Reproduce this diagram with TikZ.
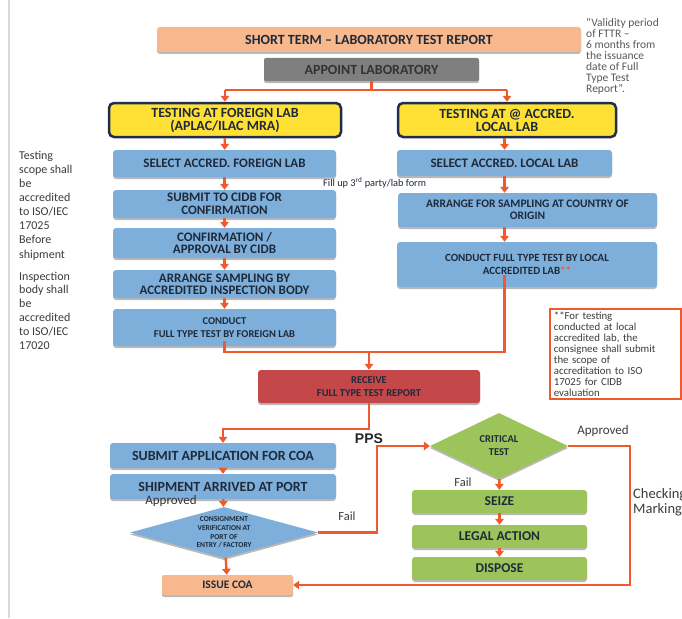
\documentclass[tikz,border=0pt]{standalone}
\usepackage{fontspec}
\setmainfont{Carlito}
\newfontfamily\arialbf{Liberation Sans}[BoldFont={Liberation Sans Bold}]
\usetikzlibrary{arrows.meta,shapes.geometric,shadows}
\definecolor{peach}{HTML}{F7B88E}
\definecolor{apgray}{HTML}{7F7F7F}
\definecolor{ylw}{HTML}{FFE135}
\definecolor{navy}{HTML}{1F2D4F}
\definecolor{bluebox}{HTML}{7EAFDB}
\definecolor{txt}{HTML}{1E2A3A}
\definecolor{orng}{HTML}{EE5A2B}
\definecolor{redbox}{HTML}{C4474A}
\definecolor{grn}{HTML}{9DC45B}
\definecolor{notetxt}{HTML}{3C3C3C}
\tikzset{
  shd/.style={drop shadow={shadow xshift=0pt,shadow yshift=-2pt,fill=black!50,opacity=.55}},
  bx/.style={rectangle, rounded corners=3pt, inner sep=0pt, align=center, text=txt, shd},
  bluebx/.style={bx, fill=bluebox},
  greenbx/.style={bx, fill=grn, minimum width=175pt, minimum height=23pt, font=\bfseries\fontsize{13.5}{14}\selectfont},
  yelbx/.style={rectangle, rounded corners=5pt, inner sep=0pt, align=center, fill=ylw, draw=navy, line width=2.5pt, text=txt, font=\bfseries\fontsize{14}{13}\selectfont},
  oline/.style={draw=orng, line width=2.4pt},
  oarr/.style={oline, -{Triangle[length=6pt,width=8.5pt]}},
  sidetxt/.style={align=left, inner sep=0pt, text=notetxt, font=\fontsize{12}{14}\selectfont},
  lbl/.style={inner sep=0pt, text=notetxt},
}
\begin{document}
\begin{tikzpicture}[x=1pt,y=-1pt]
\useasboundingbox (0,0) rectangle (682,618);
\fill[white] (0,0) rectangle (682,618);
\draw[black!15, line width=1.6pt] (9,0) -- (9,618);

% top
\node[bx, fill=peach, minimum width=424pt, minimum height=25pt, font=\bfseries\fontsize{14}{15}\selectfont] (title) at (369,39.5) {SHORT TERM -- LABORATORY TEST REPORT};
\node[bx, fill=apgray, rounded corners=2pt, minimum width=215pt, minimum height=23pt, font=\bfseries\fontsize{14}{15}\selectfont, text=black!80] (appoint) at (371.5,69.5) {APPOINT LABORATORY};
\node[lbl, anchor=north west, align=left, text=black!65, font=\fontsize{11.5}{11}\selectfont] (valid) at (586,18) {“Validity period\\of FTTR --\\6 months from\\the issuance\\date of Full\\Type Test\\Report”.};

\node[yelbx, minimum width=232pt, minimum height=34pt] (yelL) at (225,120) {TESTING AT FOREIGN LAB\\(APLAC/ILAC MRA)};
\node[yelbx, minimum width=218pt, minimum height=34pt] (yelR) at (507,120) {TESTING AT @ ACCRED.\\LOCAL LAB};

% left column
\node[bluebx, minimum width=223pt, minimum height=27pt, font=\bfseries\fontsize{13}{13}\selectfont] (sel) at (224.5,163.5) {SELECT ACCRED. FOREIGN LAB};
\node[bluebx, minimum width=223pt, minimum height=28pt, font=\bfseries\fontsize{13}{12.5}\selectfont] (sub) at (224.5,204) {SUBMIT TO CIDB FOR\\CONFIRMATION};
\node[bluebx, minimum width=223pt, minimum height=30pt, font=\bfseries\fontsize{13}{12.5}\selectfont] (conf) at (224.5,243) {CONFIRMATION /\\APPROVAL BY CIDB};
\node[bluebx, minimum width=223pt, minimum height=28pt, font=\bfseries\fontsize{13}{12}\selectfont] (arr) at (224.5,284) {ARRANGE SAMPLING BY\\ACCREDITED INSPECTION BODY};
\node[bluebx, minimum width=223pt, minimum height=37pt, font=\bfseries\fontsize{10.5}{13}\selectfont] (condL) at (224.5,327.5) {CONDUCT\\FULL TYPE TEST BY FOREIGN LAB};

% right column
\node[bluebx, minimum width=215pt, minimum height=26pt, font=\bfseries\fontsize{13}{13}\selectfont] (selR) at (504.5,163) {SELECT ACCRED. LOCAL LAB};
\node[bluebx, minimum width=259pt, minimum height=34pt, font=\bfseries\fontsize{11.5}{12.5}\selectfont] (arrR) at (527.5,210) {ARRANGE FOR SAMPLING AT COUNTRY OF\\ORIGIN};
\node[bluebx, minimum width=260pt, minimum height=45pt, font=\bfseries\fontsize{11}{13}\selectfont] (condR) at (527,264.5) {CONDUCT FULL TYPE TEST BY LOCAL\\ACCREDITED LAB\textcolor{orng}{**}};

\node[lbl, anchor=west, text=txt, font=\fontsize{10.3}{11}\selectfont] (fill) at (323,183) {Fill up 3\textsuperscript{rd} party/lab form};

% side notes
\node[sidetxt, anchor=west] (n1) at (19,190) {Testing\\scope shall\\be\\accredited\\to ISO/IEC\\17025};
\node[sidetxt, anchor=west, font=\fontsize{12}{15}\selectfont] (n2) at (19,247.5) {Before\\shipment};
\node[sidetxt, anchor=west, font=\fontsize{12}{13.8}\selectfont] (n3) at (19,310.5) {Inspection\\body shall\\be\\accredited\\to ISO/IEC\\17020};

% note box
\node[draw=orng, line width=1.8pt, fill=white, anchor=north west, text width=123pt, minimum height=90pt, inner xsep=4pt, inner ysep=0pt, align=left, text=notetxt, font=\fontsize{10.8}{11}\selectfont] (note) at (549,308) {**For testing\\conducted at local\\accredited lab, the\\consignee shall submit\\the scope of\\accreditation to ISO\\17025 for CIDB\\evaluation};

% receive
\node[bx, fill=redbox, minimum width=222pt, minimum height=33pt, font=\bfseries\fontsize{10.5}{13}\selectfont] (recv) at (369,386.5) {RECEIVE\\FULL TYPE TEST REPORT};

% bottom left
\node[bluebx, minimum width=226pt, minimum height=25pt, font=\bfseries\fontsize{14}{14}\selectfont] (subApp) at (223,455.5) {SUBMIT APPLICATION FOR COA};
\node[bluebx, minimum width=226pt, minimum height=25pt, font=\bfseries\fontsize{14}{14}\selectfont] (ship) at (223,486.5) {SHIPMENT ARRIVED AT PORT};
\node[diamond, aspect=3.7, fill=bluebox, minimum width=188pt, minimum height=51pt, inner sep=0pt, align=center, text=txt, shd, font=\bfseries\fontsize{7.5}{8.6}\selectfont] (cv) at (224,532.5) {CONSIGNMENT\\VERIFICATION AT\\PORT OF\\ENTRY / FACTORY};
\node[bx, fill=peach, rounded corners=2pt, minimum width=131pt, minimum height=20pt, font=\bfseries\fontsize{11.5}{12}\selectfont] (issue) at (227.5,585) {ISSUE COA};
\node[lbl, text=black!80, font=\fontsize{13}{13}\selectfont] (apL) at (171,501) {Approved};

% bottom right
\node[diamond, aspect=2.09, fill=grn, minimum width=138pt, minimum height=66pt, inner sep=0pt, align=center, text=txt, shd, font=\bfseries\fontsize{10.5}{13}\selectfont] (crit) at (499,446) {CRITICAL\\TEST};
\node[greenbx] (seize) at (499.5,501.5) {SEIZE};
\node[greenbx] (legal) at (499.5,536.5) {LEGAL ACTION};
\node[greenbx] (dispose) at (499.5,568.5) {DISPOSE};
\node[lbl, font=\fontsize{13}{13}\selectfont] (apR) at (603,431) {Approved};
\node[lbl, font=\fontsize{12.5}{13}\selectfont] (failC) at (463,482) {Fail};
\node[lbl, font=\fontsize{12.5}{13}\selectfont] (failV) at (347,516) {Fail};
\node[lbl, anchor=west, align=left, font=\fontsize{14.5}{15.5}\selectfont] (chk) at (633,502) {Checking\\Marking};
\node[inner sep=0pt, font=\arialbf\bfseries\fontsize{14}{14}\selectfont, text=black!85] (pps) at (369,439) {PPS};

% coordinates
\coordinate (br) at (371.5,90);
\coordinate (bl) at (225,90);
\coordinate (brr) at (507,90);
\coordinate (lstart) at (224.5,341);
\coordinate (rstart) at (504.5,275);
\coordinate (jl) at (224.5,352);
\coordinate (jr) at (504.5,352);
\coordinate (jm) at (369,352);
\coordinate (rb) at (369,429);
\coordinate (sb) at (223,429);
\coordinate (f1) at (377,532.5);
\coordinate (f2) at (377,446);
\coordinate (a1) at (630,446);
\coordinate (a2) at (630,585);

% connectors
\draw[oline] (appoint) -- (br);
\draw[oline] (bl) -- (brr);
\draw[oarr] (bl) -- (yelL);
\draw[oarr] (brr) -- (yelL.north -| brr);
\draw[oarr] (yelL) -- (sel);
\draw[oarr] (sel) -- (sub);
\draw[oarr] (sub) -- (conf);
\draw[oarr] (conf) -- (arr);
\draw[oarr] (arr) -- (condL);
\draw[oarr] (yelR.south -| selR) -- (selR);
\draw[oarr] (selR) -- (selR |- arrR.north);
\draw[oarr] (selR |- arrR.south) -- (selR |- condR.north);
\draw[oline] (lstart) -- (jl) -- (jr) -- (rstart);
\draw[oarr] (jm) -- (recv);
\draw[oarr] (recv) -- (rb) -- (sb) -- (subApp);
\draw[oarr] (subApp) -- (ship);
\draw[oarr] (ship) -- (cv);
\draw[oarr] (cv) -- (issue);
\draw[oarr] (cv) -- (f1) -- (f2) -- (crit);
\draw[oarr] (crit) -- (a1) -- (a2) -- (issue);
\draw[oarr] (crit) -- (seize);
\draw[oarr] (seize) -- (legal);
\draw[oarr] (legal) -- (dispose);
\end{tikzpicture}
\end{document}
